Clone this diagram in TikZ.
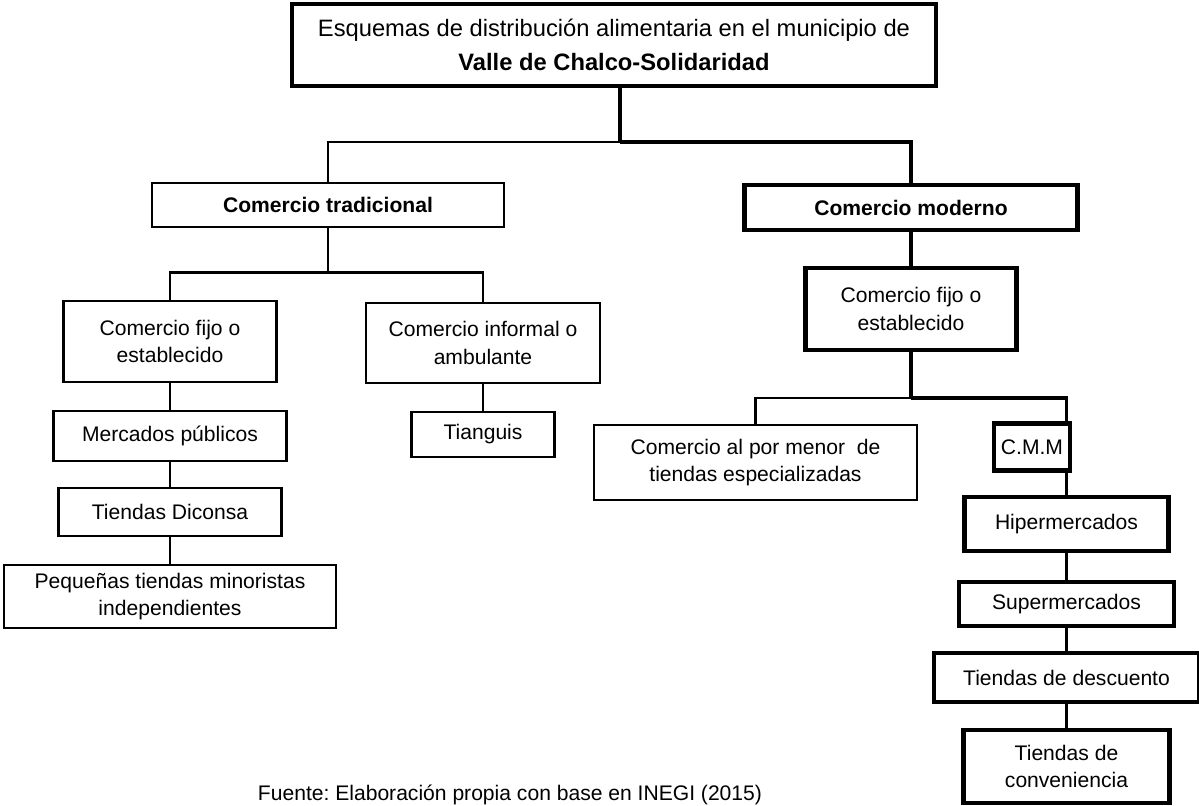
\documentclass[tikz,border=0pt]{standalone}
\usepackage{fontspec}
\setmainfont{Liberation Sans}
\usepackage{tikz}

\begin{document}
\frenchspacing
\begin{tikzpicture}[
  font=\fontsize{12}{15.5}\selectfont,
  every node/.style={align=center},
  box/.style={rectangle, draw, line width=1.2pt, inner sep=2pt},
  boxb/.style={rectangle, draw, line width=2.3pt, inner sep=2pt},
  lnk/.style={line width=1.2pt},
  lnkb/.style={line width=2.2pt}
]
  \useasboundingbox (0,0) rectangle (23.98,-16.1);

  % top
  \node[boxb, minimum width=12.88cm, minimum height=1.64cm, font=\fontsize{13.5}{19.3}\selectfont] (title) at (12.28,-0.9)
    {Esquemas de distribución alimentaria en el municipio de\\\textbf{Valle de Chalco-Solidaridad}};
  \node[box, minimum width=7.04cm, minimum height=0.88cm] (trad) at (6.56,-4.1) {\textbf{Comercio tradicional}};
  \node[boxb, minimum width=6.66cm, minimum height=0.9cm] (moderno) at (18.22,-4.15) {\textbf{Comercio moderno}};

  % tradicional
  \node[box, minimum width=4.26cm, minimum height=1.62cm] (fijoL) at (3.4,-6.83) {Comercio fijo o\\establecido};
  \node[box, minimum width=4.68cm, minimum height=1.6cm] (informal) at (9.66,-6.86) {Comercio informal o\\ambulante};
  \node[box, minimum width=4.66cm, minimum height=1.0cm] (mercados) at (3.4,-8.72) {Mercados públicos};
  \node[box, minimum width=4.46cm, minimum height=0.96cm] (diconsa) at (3.4,-10.24) {Tiendas Diconsa};
  \node[box, minimum width=6.64cm, minimum height=1.26cm] (pequenas) at (3.4,-11.93) {Pequeñas tiendas minoristas\\independientes};
  \node[box, minimum width=2.86cm, minimum height=0.9cm] (tianguis) at (9.66,-8.69) {Tianguis};

  % moderno
  \node[boxb, minimum width=4.22cm, minimum height=1.64cm] (fijoR) at (18.22,-6.18) {Comercio fijo o\\establecido};
  \node[box, minimum width=6.46cm, minimum height=1.5cm] (menor) at (15.11,-9.25) {Comercio al por menor\ \ de\\tiendas especializadas};
  \node[boxb, minimum width=1.52cm, minimum height=0.94cm] (cmm) at (20.64,-8.94) {C.M.M};
  \node[boxb, minimum width=4.08cm, minimum height=1.08cm] (hiper) at (21.33,-10.48) {Hipermercados};
  \node[boxb, minimum width=4.3cm, minimum height=0.88cm] (super) at (21.33,-12.08) {Supermercados};
  \node[boxb, minimum width=5.3cm, minimum height=0.98cm] (descuento) at (21.33,-13.55) {Tiendas de descuento};
  \node[boxb, minimum width=4.12cm, minimum height=1.46cm] (conv) at (21.33,-15.33) {Tiendas de\\conveniencia};

  \node (fuente) at (10.2,-15.9) {Fuente: Elaboración propia con base en INEGI (2015)};

  \coordinate (jt) at (12.4,-2.84);
  \coordinate (jtr) at (6.56,-5.45);
  \coordinate (jfr) at (18.22,-7.96);

  \draw[lnkb] (title.south -| jt) -- (jt);
  \draw[lnk]  (jt) -| (trad.north);
  \draw[lnkb] (jt) -| (moderno.north);

  \draw[lnk] (trad.south) -- (jtr);
  \draw[lnk] (jtr) -| (fijoL.north);
  \draw[lnk] (jtr) -| (informal.north);
  \draw[lnk] (fijoL) -- (mercados);
  \draw[lnk] (mercados) -- (diconsa);
  \draw[lnk] (diconsa) -- (pequenas);
  \draw[lnk] (informal) -- (tianguis);

  \draw[lnkb] (moderno) -- (fijoR);
  \draw[lnkb] (fijoR.south) -- (jfr);
  \draw[lnk]  (jfr) -| (menor.north);
  \draw[lnkb] (jfr) -| (hiper.north |- cmm.north);
  \draw[lnkb] (cmm.south -| hiper.north) -- (hiper.north);
  \draw[lnkb] (hiper) -- (super);
  \draw[lnkb] (super) -- (descuento);
  \draw[lnkb] (descuento) -- (conv);
\end{tikzpicture}
\end{document}
